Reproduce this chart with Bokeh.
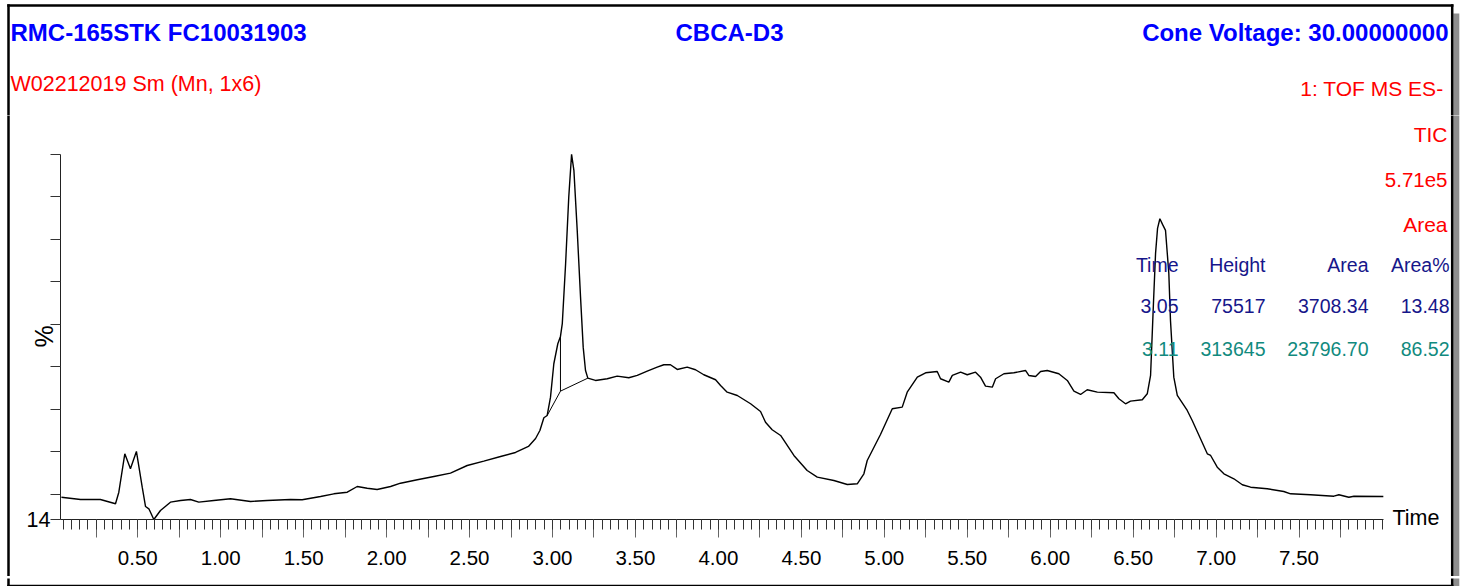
import math
from bokeh.plotting import figure
from bokeh.layouts import column, row
from bokeh.models import Range1d, FixedTicker, Label
from bokeh.embed import file_html
from bokeh.resources import INLINE

# ---- data: TIC chromatogram (time in minutes, intensity in % of 5.71e5) ----
time_min = [
    0.04, 0.155, 0.275, 0.366, 0.386, 0.422, 0.456, 0.492, 0.527, 0.547,
    0.567, 0.597, 0.637, 0.697, 0.758, 0.818, 0.868, 0.958, 1.059, 1.180,
    1.280, 1.421, 1.491, 1.602, 1.682, 1.763, 1.823, 1.883, 1.943, 2.024,
    2.084, 2.185, 2.285, 2.385, 2.486, 2.586, 2.687, 2.777, 2.855, 2.898,
    2.924, 2.948, 2.968, 2.988, 3.008, 3.032, 3.048, 3.059, 3.079, 3.098,
    3.115, 3.129, 3.149, 3.169, 3.185, 3.199, 3.213, 3.259, 3.330, 3.390,
    3.460, 3.511, 3.571, 3.631, 3.671, 3.711, 3.752, 3.812, 3.862, 3.912,
    3.983, 4.013, 4.053, 4.114, 4.194, 4.254, 4.284, 4.324, 4.375, 4.455,
    4.535, 4.596, 4.696, 4.777, 4.837, 4.877, 4.897, 4.977, 5.048, 5.108,
    5.138, 5.199, 5.249, 5.319, 5.339, 5.389, 5.410, 5.460, 5.500, 5.550,
    5.580, 5.610, 5.651, 5.671, 5.721, 5.781, 5.851, 5.871, 5.912, 5.942,
    5.982, 6.052, 6.103, 6.143, 6.183, 6.223, 6.284, 6.384, 6.414, 6.454,
    6.484, 6.555, 6.585, 6.605, 6.623, 6.635, 6.647, 6.661, 6.677, 6.695,
    6.715, 6.725, 6.745, 6.766, 6.826, 6.856, 6.906, 6.947, 6.967, 7.007,
    7.047, 7.107, 7.158, 7.208, 7.308, 7.408, 7.449, 7.569, 7.710, 7.740,
    7.800, 7.831, 8.008,
]
intensity_pct = [
    19.25, 18.71, 18.71, 17.70, 20.43, 29.48, 25.94, 30.02, 21.61, 17.06,
    16.52, 14.00, 16.12, 18.08, 18.48, 18.71, 18.08, 18.48, 18.88, 18.24,
    18.48, 18.71, 18.64, 19.42, 20.05, 20.43, 21.77, 21.37, 21.07, 21.77,
    22.55, 23.35, 24.13, 24.91, 26.72, 27.74, 28.84, 29.79, 31.20, 33.08,
    34.97, 37.96, 38.50, 42.81, 50.68, 55.39, 57.11, 60.11, 74.24, 89.93,
    100.0, 96.22, 82.09, 66.37, 54.59, 49.10, 47.29, 46.75, 47.15, 47.76,
    47.38, 47.93, 48.94, 49.88, 50.45, 50.45, 49.34, 49.88, 49.27, 48.09,
    46.91, 45.57, 43.99, 43.21, 41.26, 39.44, 36.92, 35.13, 33.79, 29.08,
    25.54, 23.97, 23.19, 22.25, 22.41, 24.77, 27.90, 34.03, 40.08, 40.46,
    43.99, 47.53, 48.56, 48.87, 47.15, 46.35, 47.93, 48.70, 48.09, 48.70,
    47.53, 45.41, 45.17, 47.15, 48.33, 48.56, 49.10, 47.93, 47.69, 48.87,
    49.10, 48.33, 46.75, 44.23, 43.45, 44.56, 43.99, 43.85, 42.44, 41.26,
    41.87, 42.20, 43.61, 47.93, 65.60, 76.67, 82.56, 84.84, 83.50, 82.09,
    71.96, 60.88, 47.53, 43.21, 39.68, 37.32, 33.01, 29.48, 29.08, 26.32,
    24.77, 23.59, 22.18, 21.61, 21.23, 20.60, 20.05, 19.82, 19.49, 19.82,
    19.25, 19.49, 19.42,
]

# integration baseline and drop line
baseline_time = [2.968, 3.048, 3.213]
baseline_pct = [38.50, 44.23, 47.29]
drop_time = [3.048, 3.048]
drop_pct = [44.23, 57.11]

# peak table
table_headers = ["Time", "Height", "Area", "Area%"]
peak_times = ["3.05", "3.11"]
peak_heights = ["75517", "313645"]
peak_areas = ["3708.34", "23796.70"]
peak_area_pcts = ["13.48", "86.52"]
NAVY = "#16168a"
TEAL = "#118a7e"
row_colors = [NAVY, TEAL]

# axis ticks
x_major = [0.25 * i for i in range(1, 32)]
x_minor = [round(0.05 * i, 2) for i in range(1, 161)]
x_labels = {t: (f"{t:.2f}" if (i % 2 == 1) else "") for i, t in enumerate(x_major)}
y_ticks = [14, 20, 30, 40, 50, 60, 70, 80, 90, 100]
y_labels = {v: ("14" if v == 14 else "") for v in y_ticks}

FONT = "Liberation Sans"
BLUE = "#0000ff"
RED = "#ff0000"

# page frame edges (page pixels)
B_L, B_R, B_T, B_B = 8, 1451.7, 5, 583.5
SH_L, SH_R, SH_T, SH_B = 1452.8, 1458.8, 13, 600


def no_align(f):
    try:
        f.frame_align = False
    except Exception:
        pass


def panel(w, h, x0, y0):
    """Helper figure whose data coordinates equal page pixels (y downward)."""
    f = figure(width=w, height=h, x_range=Range1d(x0, x0 + w), y_range=Range1d(y0 + h, y0),
               output_backend="svg", toolbar_location=None,
               x_axis_location=None, y_axis_location=None,
               min_border=0, min_border_left=0, min_border_right=0,
               min_border_top=0, min_border_bottom=0)
    no_align(f)
    f.outline_line_color = None
    f.background_fill_color = "white"
    f.border_fill_color = "white"
    for g in f.grid:
        g.visible = False
    # drop shadow and page border (clipped to each panel)
    f.quad(left=[SH_L], right=[SH_R], top=[SH_T], bottom=[SH_B],
           fill_color="#8e8e8e", line_color=None)
    f.segment(x0=[B_L, B_L, B_R, B_L], y0=[B_T, B_T, B_T, B_B],
              x1=[B_R, B_L, B_R, B_R], y1=[B_T, B_B, B_B, B_B],
              line_color="black", line_width=2.5, line_cap="square")
    return f


def dlab(f, text, x, y, size, color, align="left", bold=False):
    f.add_layout(Label(x=x, y=y, text=text, text_font=FONT, text_font_size=size,
                       text_color=color, text_align=align, text_baseline="alphabetic",
                       text_font_style="bold" if bold else "normal"))


# ---- header (page y 0..115) ----
header = panel(1464, 115, 0, 0)
dlab(header, "RMC-165STK FC10031903", 10, 32, "24px", BLUE, bold=True)
dlab(header, "CBCA-D3", 729, 32, "24px", BLUE, align="center", bold=True)
dlab(header, "Cone Voltage: 30.00000000", 1448, 32, "24px", BLUE, align="right", bold=True)
dlab(header, "W02212019 Sm (Mn, 1x6)", 10, 83, "21.5px", RED)
dlab(header, "1: TOF MS ES-", 1443, 87.5, "21px", RED, align="right")

# ---- side strips and footer ----
MID_H = 461  # page y 115..576
left_strip = panel(20, MID_H, 0, 115)
right_panel = panel(80, MID_H, 1384, 115)
dlab(right_panel, "TIC", 1447, 134, "21px", RED, align="right")
dlab(right_panel, "5.71e5", 1447, 179.5, "20.5px", RED, align="right")
dlab(right_panel, "Area", 1447, 224, "21px", RED, align="right")
dlab(right_panel, table_headers[3], 1449, 264, "19.5px", NAVY, align="right")
dlab(right_panel, peak_area_pcts[0], 1449, 305.5, "19.5px", row_colors[0], align="right")
dlab(right_panel, peak_area_pcts[1], 1449, 348.5, "19.5px", row_colors[1], align="right")
dlab(right_panel, "Time", 1392, 517.5, "21.5px", "black")
footer = panel(1464, 10, 0, 576)

# ---- main chromatogram (page x 20..1384, y 115..576; frame x 60..1384, y 153..519) ----
p = figure(width=1364, height=MID_H,
           x_range=Range1d(0.0344, 8.0150), y_range=Range1d(14, 100.2),
           output_backend="svg", toolbar_location=None,
           min_border_left=40, min_border_right=0,
           min_border_top=38, min_border_bottom=57)
no_align(p)
p.background_fill_color = "white"
p.border_fill_color = "white"
p.outline_line_color = None
p.xgrid.grid_line_color = None
p.ygrid.grid_line_color = None

xa = p.xaxis[0]
xa.ticker = FixedTicker(ticks=x_major, minor_ticks=x_minor)
xa.bounds = (0.0344, 8.009)
xa.major_label_overrides = x_labels
xa.major_tick_in = 0
xa.major_tick_out = 18
xa.minor_tick_in = 0
xa.minor_tick_out = 10
xa.axis_line_color = "#222222"
xa.major_tick_line_color = "#666666"
xa.minor_tick_line_color = "#333333"
xa.major_label_text_font = FONT
xa.major_label_text_font_size = "20.5px"
xa.major_label_text_color = "black"
xa.major_label_standoff = 13

ya = p.yaxis[0]
ya.ticker = FixedTicker(ticks=y_ticks, minor_ticks=[])
ya.bounds = (14, 100)
ya.major_label_overrides = y_labels
ya.major_tick_in = 0
ya.major_tick_out = 10
ya.minor_tick_line_color = None
ya.axis_line_color = "#222222"
ya.major_tick_line_color = "#333333"
ya.major_label_text_font = FONT
ya.major_label_text_font_size = "21.5px"
ya.major_label_text_color = "black"
ya.major_label_standoff = 0
ya.axis_label = "%"
ya.axis_label_text_font = FONT
ya.axis_label_text_font_style = "normal"
ya.axis_label_text_font_size = "25px"
ya.axis_label_text_color = "black"
ya.axis_label_standoff = -34

p.line(time_min, intensity_pct, line_color="black", line_width=1.4)
p.line(baseline_time, baseline_pct, line_color="black", line_width=1)
p.line(drop_time, drop_pct, line_color="black", line_width=1)


def slab(text, sx, sy, size, color, align="left"):
    p.add_layout(Label(x=sx, y=sy, x_units="screen", y_units="screen", text=text,
                       text_font=FONT, text_font_size=size, text_color=color,
                       text_align=align, text_baseline="alphabetic"))


# frame-relative screen coords: sx = page_x - 60, sy = 519 - page_y
col_right = [1118, 1205, 1308]
for h, cx in zip(table_headers[:3], col_right):
    slab(h, cx, 255, "19.5px", NAVY, align="right")
row_y = [213.5, 170.5]
for i in range(len(peak_times)):
    vals = [peak_times[i], peak_heights[i], peak_areas[i]]
    for v, cx in zip(vals, col_right):
        slab(v, cx, row_y[i], "19.5px", row_colors[i], align="right")

layout = column(header, row(left_strip, p, right_panel), footer)
open("out.html", "w").write(file_html(layout, INLINE))
